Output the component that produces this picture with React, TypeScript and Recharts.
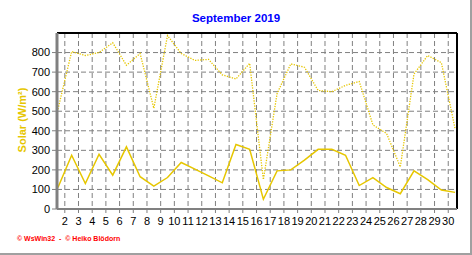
import React from "react";
import {
  LineChart,
  Line,
  XAxis,
  YAxis,
  CartesianGrid,
  ReferenceLine,
} from "recharts";

// daily solar radiation, September 2019 (W/m²)
const days = [
  1, 2, 3, 4, 5, 6, 7, 8, 9, 10, 11, 12, 13, 14, 15, 16, 17, 18, 19, 20, 21,
  22, 23, 24, 25, 26, 27, 28, 29, 30,
];
const avgSolar = [
  110, 275, 130, 280, 173, 318, 165, 117, 161, 238, 204, 169, 134, 330, 305,
  50, 195, 200, 250, 305, 305, 275, 120, 160, 110, 78, 195, 150, 97, 85,
];
const maxSolar = [
  510, 805, 785, 800, 850, 735, 795, 515, 887, 795, 760, 765, 686, 665, 745,
  150, 590, 742, 725, 606, 600, 632, 652, 430, 386, 215, 690, 785, 748, 410,
];
const minSolar = [
  0, 0, 0, 0, 0, 0, 0, 0, 0, 0, 0, 0, 0, 0, 0, 0, 0, 0, 0, 0, 0, 0, 0, 0, 0,
  0, 0, 0, 0, 0,
];
const xTicks = [
  2, 3, 4, 5, 6, 7, 8, 9, 10, 11, 12, 13, 14, 15, 16, 17, 18, 19, 20, 21, 22,
  23, 24, 25, 26, 27, 28, 29, 30,
];
const yTicks = [0, 100, 200, 300, 400, 500, 600, 700, 800];

const X_DOMAIN: [number, number] = [1.43, 30.64];
const Y_DOMAIN: [number, number] = [0, 900];

// minor tick marks (6 hours on x, 20 W/m² on y)
const xMinor: number[] = [];
for (let v = 1.5; v <= 30.5; v += 0.25) xMinor.push(v);
const yMinor: number[] = [];
for (let v = 0; v <= 900; v += 20) yMinor.push(v);

const YELLOW = "#e6c600";
const FONT = "Arial, 'Liberation Sans', sans-serif";

// plot points sit at midday of each day
const data = days.map((d, i) => ({
  x: d + 0.5,
  avg: avgSolar[i],
  max: maxSolar[i],
  min: minSolar[i],
}));

const tickStyle = { fontSize: 11, fill: "#000", fontFamily: FONT };

export default function App() {
  return (
    <div
      style={{
        position: "fixed",
        left: 0,
        top: 0,
        width: 472,
        height: 255,
        background: "#fff",
        boxSizing: "border-box",
        borderRight: "2px solid #a0a0a0",
        borderBottom: "2px solid #a0a0a0",
        fontFamily: FONT,
      }}
    >
      <div
        style={{
          position: "absolute",
          left: 0,
          width: 472,
          top: 11,
          textAlign: "center",
          color: "#0000ff",
          fontWeight: "bold",
          fontSize: 11.5,
          lineHeight: "14px",
        }}
      >
        September 2019
      </div>
      <div
        style={{
          position: "absolute",
          left: 22,
          top: 120,
          transform: "translate(-50%, -50%) rotate(-90deg)",
          color: YELLOW,
          fontWeight: "bold",
          fontSize: 11,
          whiteSpace: "nowrap",
        }}
      >
        Solar (W/m²)
      </div>
      <div
        style={{
          position: "absolute",
          left: 17,
          top: 235,
          color: "#ff0000",
          fontWeight: "bold",
          fontSize: 7,
          whiteSpace: "nowrap",
        }}
      >
        © WsWin32 &nbsp;- &nbsp;© Heiko Blödorn
      </div>
      <div style={{ position: "absolute", left: 0, top: 0 }}>
        <LineChart
          width={472}
          height={255}
          data={data}
          margin={{ top: 33, right: 15, bottom: 0, left: 0 }}
        >
          <XAxis
            xAxisId="minor"
            dataKey="x"
            type="number"
            domain={X_DOMAIN}
            ticks={xMinor}
            height={0}
            tick={false}
            tickSize={3}
            axisLine={false}
            tickLine={{ stroke: "#808080" }}
          />
          <XAxis
            dataKey="x"
            type="number"
            domain={X_DOMAIN}
            ticks={xTicks}
            interval={0}
            height={46}
            tick={tickStyle}
            tickSize={4}
            tickMargin={4}
            axisLine={{ stroke: "#808080", strokeWidth: 2 }}
            tickLine={{ stroke: "#808080" }}
          />
          <YAxis
            yAxisId="minor"
            type="number"
            domain={Y_DOMAIN}
            ticks={yMinor}
            width={0}
            tick={false}
            tickSize={2}
            axisLine={false}
            tickLine={{ stroke: "#808080" }}
          />
          <YAxis
            type="number"
            domain={Y_DOMAIN}
            ticks={yTicks}
            interval={0}
            width={57}
            tick={tickStyle}
            tickSize={5}
            tickMargin={2}
            axisLine={{ stroke: "#808080", strokeWidth: 3 }}
            tickLine={{ stroke: "#808080" }}
          />
          <CartesianGrid stroke="#808080" strokeDasharray="5 3" />
          <ReferenceLine y={900} stroke="#000" strokeWidth={2} />
          <ReferenceLine x={X_DOMAIN[1]} stroke="#000" strokeWidth={2} />
          <Line
            type="linear"
            dataKey="min"
            stroke={YELLOW}
            strokeWidth={1.5}
            strokeDasharray="1 1"
            dot={false}
            isAnimationActive={false}
          />
          <Line
            type="linear"
            dataKey="max"
            stroke={YELLOW}
            strokeWidth={1.3}
            strokeDasharray="1.3 1.3"
            dot={false}
            isAnimationActive={false}
          />
          <Line
            type="linear"
            dataKey="avg"
            stroke={YELLOW}
            strokeWidth={1.5}
            dot={false}
            isAnimationActive={false}
          />
        </LineChart>
      </div>
    </div>
  );
}
